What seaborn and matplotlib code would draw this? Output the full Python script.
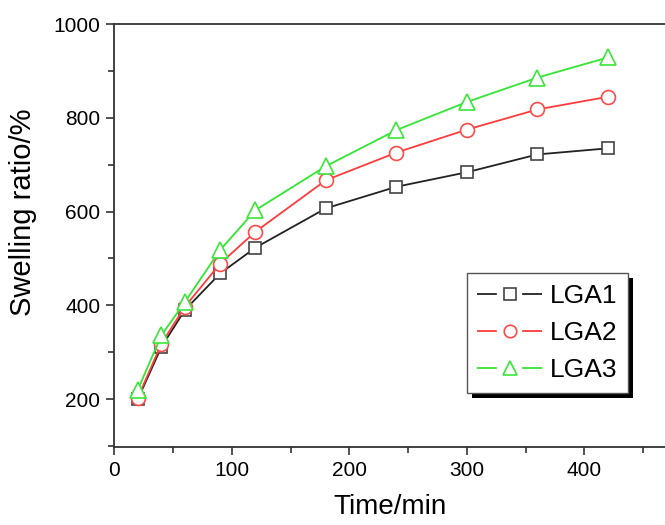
import matplotlib
matplotlib.use("Agg")
import matplotlib.pyplot as plt
from matplotlib.lines import Line2D
from matplotlib.patches import Rectangle
from matplotlib.transforms import IdentityTransform
from matplotlib.ticker import MultipleLocator
import seaborn as sns
import pandas as pd

time_min = [20, 40, 60, 90, 120, 180, 240, 300, 360, 420]
lga1 = [200, 311, 390, 468, 523, 607, 653, 684, 722, 735]
lga2 = [203, 318, 397, 489, 557, 667, 726, 775, 818, 845]
lga3 = [220, 336, 407, 518, 603, 697, 774, 834, 886, 929]
series_names = ["LGA1", "LGA2", "LGA3"]
colors = ["#222222", "#ff3b3b", "#33e633"]
edge_colors = ["#444444", "#ff4a4a", "#3ae63a"]
markers = ["s", "o", "^"]
marker_sizes = [9, 10, 11]

df = pd.concat([
    pd.DataFrame({"Time": time_min, "Swelling": vals, "Sample": name})
    for name, vals in zip(series_names, [lga1, lga2, lga3])
])

sns.set_style("ticks")
plt.rcParams["font.family"] = ["Liberation Sans", "DejaVu Sans"]
plt.rcParams["text.color"] = "black"
plt.rcParams["axes.labelcolor"] = "black"
plt.rcParams["xtick.labelcolor"] = "black"
plt.rcParams["ytick.labelcolor"] = "black"

fig = plt.figure(figsize=(6.65, 5.25), dpi=100)
ax = fig.add_axes([0.172, 0.148, 0.828, 0.806])

for name, col, ec, mk, ms in zip(series_names, colors, edge_colors, markers, marker_sizes):
    sub = df[df["Sample"] == name]
    sns.lineplot(data=sub, x="Time", y="Swelling", ax=ax, color=col, linewidth=1.3,
                 marker=mk, markersize=ms, markerfacecolor="white",
                 markeredgecolor=ec, markeredgewidth=1.2, legend=False)

ax.set_xlim(0, 468.5)
ax.set_ylim(97, 1000)
ax.xaxis.set_major_locator(MultipleLocator(100))
ax.xaxis.set_minor_locator(MultipleLocator(50))
ax.yaxis.set_major_locator(MultipleLocator(200))
ax.yaxis.set_minor_locator(MultipleLocator(100))
ax.set_yticks([200, 400, 600, 800, 1000])

for side in ["left", "bottom", "top"]:
    ax.spines[side].set_color("#333333")
    ax.spines[side].set_linewidth(1.3)
ax.spines["right"].set_visible(False)

ax.tick_params(axis="both", which="major", direction="out", length=6, width=1.2,
               color="#333333", labelsize=15, pad=4, top=False, right=False,
               labelcolor="black")
ax.tick_params(axis="both", which="minor", direction="out", length=4, width=1.2,
               color="#333333", top=False, right=False)

ax.set_xlabel("Time/min", fontsize=20, color="black")
ax.set_ylabel("Swelling ratio/%", fontsize=21, color="black")
ax.xaxis.set_label_coords(0.5, -0.11)
ax.yaxis.set_label_coords(-0.14, 0.556)

handles = []
for col, ec, mk, ms in zip(colors, edge_colors, markers, marker_sizes):
    handles.append(Line2D([0], [0], color=col, linewidth=1.3, linestyle=(0, (11, 14)),
                          marker=mk, markersize=ms * 0.9, markerfacecolor="white",
                          markeredgecolor=ec, markeredgewidth=1.2))
leg = ax.legend(handles, series_names, loc="upper left", bbox_to_anchor=(0.640, 0.411),
                fontsize=19, frameon=True, fancybox=False, handlelength=2.45,
                handletextpad=0.3, labelspacing=0.5, borderpad=0.4,
                borderaxespad=0, numpoints=1)
leg.get_frame().set_edgecolor("#555555")
leg.get_frame().set_linewidth(1.0)
leg.get_frame().set_alpha(1)
leg.set_zorder(10)
for t in leg.get_texts():
    t.set_color("black")

fig.canvas.draw()
bb = leg.get_window_extent()
shadow = Rectangle((bb.x0 + 5, bb.y0 - 5), bb.width, bb.height, transform=IdentityTransform(),
                   facecolor="black", edgecolor="none", zorder=9, clip_on=False)
ax.add_artist(shadow)

fig.savefig("out.png", dpi=100)
